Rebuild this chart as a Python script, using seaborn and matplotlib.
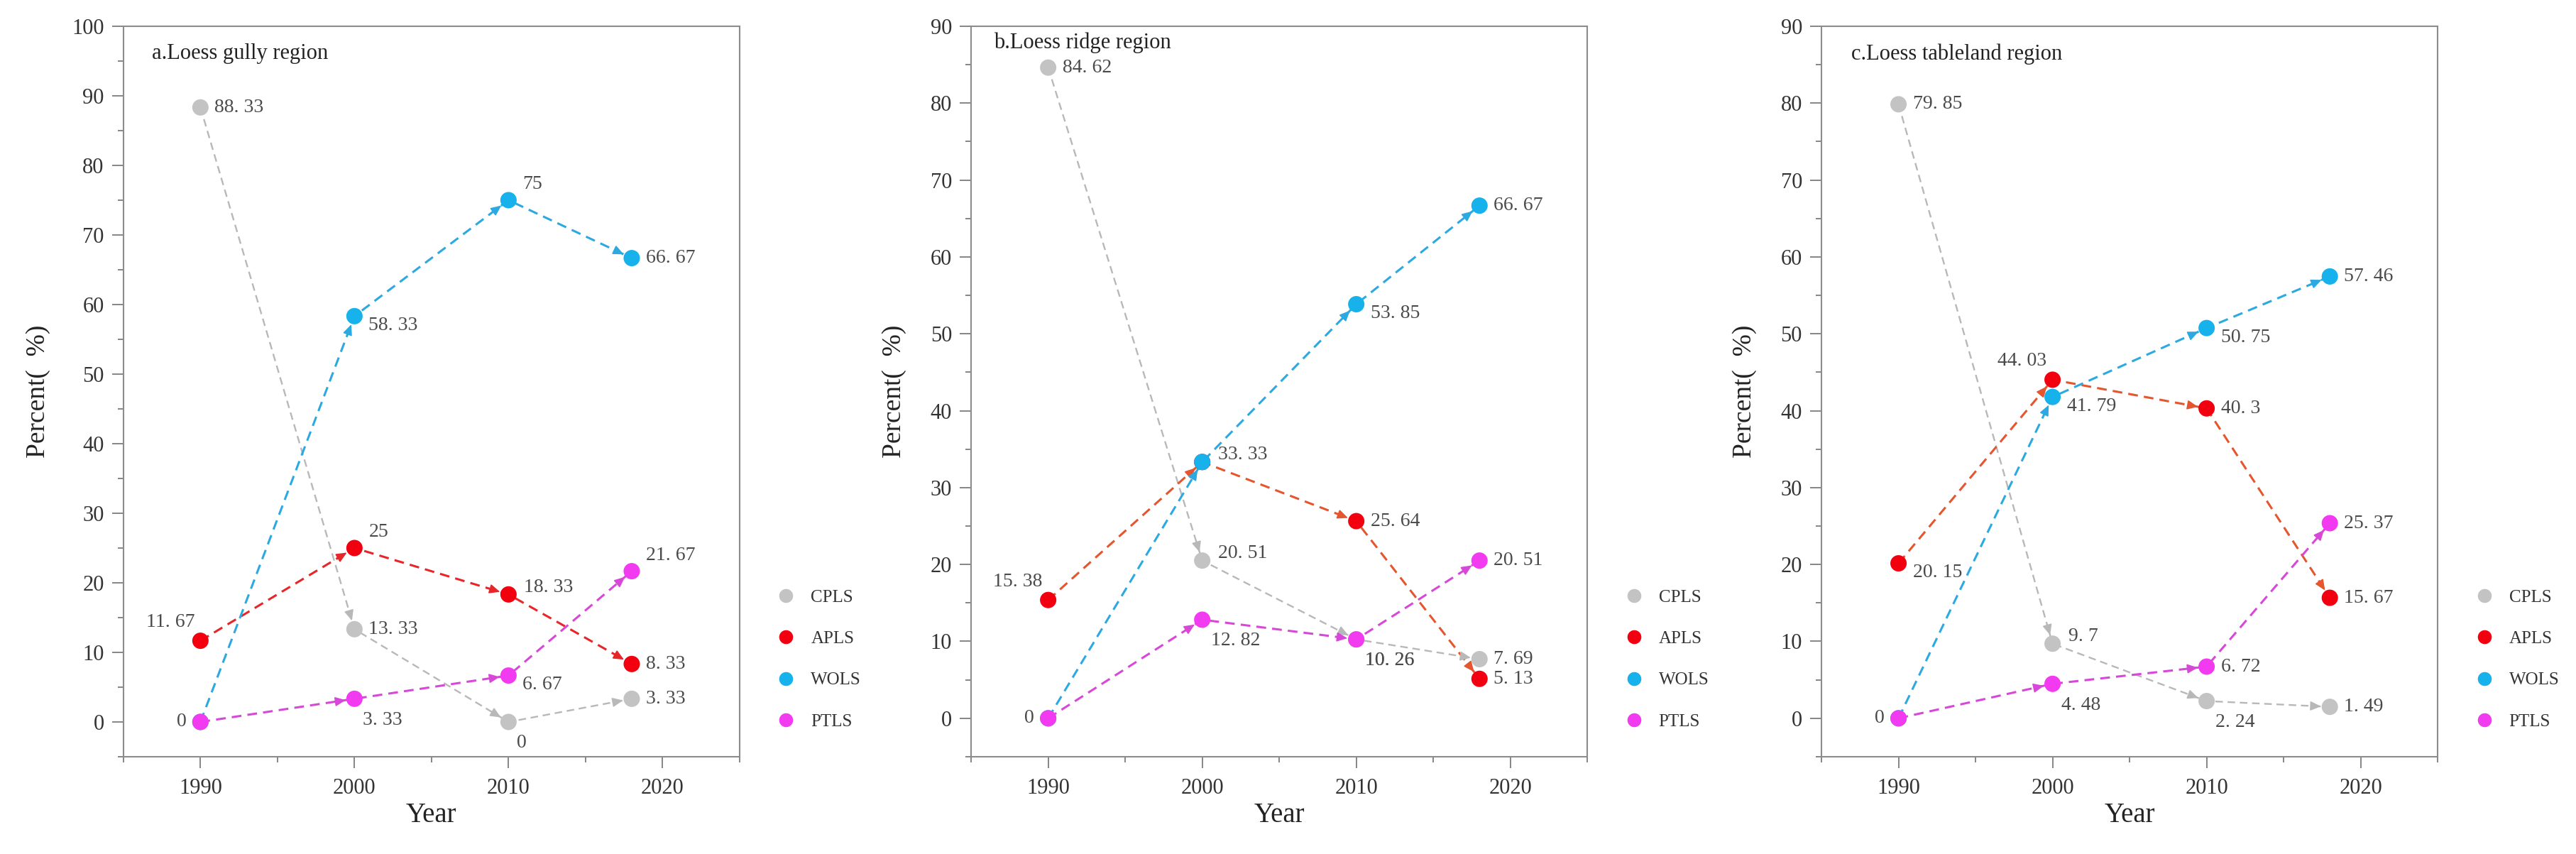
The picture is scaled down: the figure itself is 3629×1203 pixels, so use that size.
import numpy as np
import pandas as pd
import matplotlib
matplotlib.use("Agg")
import matplotlib.pyplot as plt
from matplotlib.ticker import MultipleLocator
import seaborn as sns

# ---- data ----
years = [1990, 2000, 2010, 2018]
types = ["CPLS", "APLS", "WOLS", "PTLS"]

gully_cpls = [88.33, 13.33, 0, 3.33]
gully_apls = [11.67, 25, 18.33, 8.33]
gully_wols = [0, 58.33, 75, 66.67]
gully_ptls = [0, 3.33, 6.67, 21.67]

ridge_cpls = [84.62, 20.51, 10.26, 7.69]
ridge_apls = [15.38, 33.33, 25.64, 5.13]
ridge_wols = [0, 33.33, 53.85, 66.67]
ridge_ptls = [0, 12.82, 10.26, 20.51]

table_cpls = [79.85, 9.7, 2.24, 1.49]
table_apls = [20.15, 44.03, 40.3, 15.67]
table_wols = [0, 41.79, 50.75, 57.46]
table_ptls = [0, 4.48, 6.72, 25.37]

titles = ["a.Loess gully region", "b.Loess ridge region", "c.Loess tableland region"]
y_tops = [100, 90, 90]

# ---- styling ----
marker_colors = {"CPLS": "#C3C3C3", "APLS": "#F2000F", "WOLS": "#17B1EC", "PTLS": "#F23BF0"}
line_colors = {"CPLS": "#B8B8B8", "APLS": "#E5552E", "WOLS": "#2DA9E1", "PTLS": "#D848D8"}
line_width = {"CPLS": 1.7, "APLS": 2.2, "WOLS": 2.2, "PTLS": 2.2}

# label placement codes -> (dx px, dy px, ha)
offsets = {
    "r": (20, 0, "left"),
    "ur": (22, 10, "left"),
    "u": (20, 22, "left"),
    "dr": (20, -13, "left"),
    "dd": (12, -30, "left"),
    "ul": (-8, 26, "right"),
    "l": (-20, 0, "right"),
}

panels = [
    dict(values=[gully_cpls, gully_apls, gully_wols, gully_ptls],
         labels=[["r", "r", "dd", "r"],
                 ["ul", "u", "ur", "r"],
                 ["l", "dr", "u", "r"],
                 [None, "dd", "dr", "u"]],
         left=0.0479, title_xy=(0.046, 0.963), apls_line="#E8262A", ylabelpad=22),
    dict(values=[ridge_cpls, ridge_apls, ridge_wols, ridge_ptls],
         labels=[["r", "ur", "dd", "r"],
                 ["ul", "ur", "r", "r"],
                 ["l", None, "dr", "r"],
                 [None, "dd", "dd", "r"]],
         left=0.3770, title_xy=(0.037, 0.977), apls_line=None, ylabelpad=24),
    dict(values=[table_cpls, table_apls, table_wols, table_ptls],
         labels=[["r", "ur", "dd", "r"],
                 ["dr", "ul", "r", "r"],
                 ["l", "dr", "dr", "r"],
                 [None, "dd", "r", "r"]],
         left=0.7071, title_xy=(0.048, 0.962), apls_line=None, ylabelpad=24),
]

sns.set_style("ticks")
plt.rcParams["font.family"] = ["Liberation Serif", "Noto Sans CJK SC"]

fig = plt.figure(figsize=(36.29, 12.03), dpi=100)

for i, p in enumerate(panels):
    ax = fig.add_axes([p["left"], 0.1139, 0.2392, 0.8554])
    df = pd.DataFrame({
        "Year": years * len(types),
        "Percent": sum(p["values"], []),
        "Type": np.repeat(types, len(years)),
    })

    lcol = dict(line_colors)
    if p["apls_line"]:
        lcol["APLS"] = p["apls_line"]

    # dashed connecting lines
    for t in types:
        sub = df[df["Type"] == t]
        sns.lineplot(data=sub, x="Year", y="Percent", color=lcol[t], linewidth=line_width[t],
                     linestyle=(0, (4.5, 2.8)), errorbar=None, legend=False, ax=ax, zorder=2)

    sns.scatterplot(data=df, x="Year", y="Percent", hue="Type", hue_order=types,
                    palette=marker_colors, s=275, edgecolor="none", linewidth=0, ax=ax, zorder=4)

    ax.set_xlim(1985, 2025)
    ax.set_ylim(-5, y_tops[i])

    # arrow heads at the end of each segment
    for t in types:
        sub = df[df["Type"] == t]
        xs, ys = sub["Year"].to_numpy(), sub["Percent"].to_numpy()
        for k in range(1, len(xs)):
            p0 = ax.transData.transform((xs[k - 1], ys[k - 1]))
            p1 = ax.transData.transform((xs[k], ys[k]))
            seg = np.hypot(*(p1 - p0)) * 72 / fig.dpi
            ax.annotate("", xy=(xs[k], ys[k]), xytext=(xs[k - 1], ys[k - 1]),
                        arrowprops=dict(arrowstyle="-|>,head_length=0.45,head_width=0.2",
                                        color=lcol[t], lw=1.2, mutation_scale=20,
                                        shrinkB=9, shrinkA=max(seg - 9 - 10, 0)),
                        zorder=3)

    # value labels
    for t, vals, codes in zip(types, p["values"], p["labels"]):
        for x, v, code in zip(years, vals, codes):
            if code is None:
                continue
            dx, dy, ha = offsets[code]
            ax.annotate(f"{v:g}".replace(".", ". "), xy=(x, v), xytext=(dx, dy),
                        textcoords="offset pixels", ha=ha, va="center",
                        fontsize=20, color="#4A4A4A", zorder=5)

    ax.text(p["title_xy"][0], p["title_xy"][1], titles[i], transform=ax.transAxes,
            fontsize=22, ha="left", va="center", color="#222222")

    # axes
    ax.xaxis.set_major_locator(MultipleLocator(10))
    ax.xaxis.set_minor_locator(MultipleLocator(5))
    ax.yaxis.set_major_locator(MultipleLocator(10))
    ax.yaxis.set_minor_locator(MultipleLocator(5))
    ax.tick_params(which="both", direction="out", color="#858585", width=1.4,
                   top=False, right=False)
    ax.tick_params(which="major", length=11.5, labelsize=22, labelcolor="#333333")
    ax.tick_params(which="minor", length=5.8)
    ax.tick_params(axis="x", pad=10)
    ax.tick_params(axis="y", pad=8)
    for s in ax.spines.values():
        s.set_visible(True)
        s.set_color("#8C8C8C")
        s.set_linewidth(1.5)

    ax.set_xlabel("Year", fontsize=28, color="#222222", labelpad=4)
    ax.set_ylabel("Percent(  %)", fontsize=27, color="#222222", labelpad=p["ylabelpad"])

    sns.move_legend(ax, "center left", bbox_to_anchor=(1.035, 0.133), frameon=False,
                    title=None, fontsize=18, markerscale=0.85, labelspacing=1.43,
                    handletextpad=0.4, borderaxespad=0)
    for txt in ax.get_legend().get_texts():
        txt.set_color("#333333")

fig.savefig("out.png", dpi=100)
